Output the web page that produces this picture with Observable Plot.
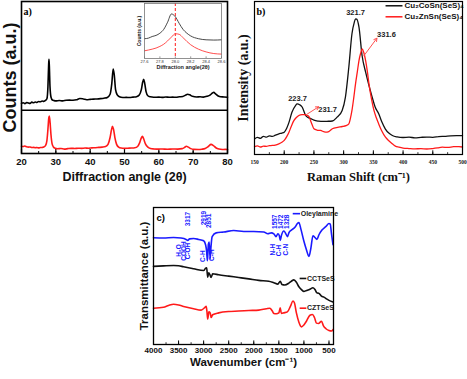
<!DOCTYPE html>
<html><head><meta charset="utf-8">
<script src="https://cdn.jsdelivr.net/npm/d3@7"></script>
<script src="https://cdn.jsdelivr.net/npm/@observablehq/plot@0.6"></script>
<style>
body{margin:0;background:#fff;}
#wrap{position:relative;width:467px;height:379px;overflow:hidden;background:#fff;}
#wrap > div{position:absolute;}
</style></head><body>
<div id="wrap"><div id="pa" style="left:0;top:0"></div><div id="pb" style="left:235px;top:0"></div><div id="pin" style="left:135px;top:0"></div><div id="pc" style="left:120px;top:190px"></div></div>
<script>
// ---------- Panel a: XRD ----------
const xrdTicks = [20,30,40,50,60,70,80];
const xrdCCTSeS = [[20,33.0],[20.5,33.4],[21,32.8],[21.5,33.5],[22,33.2],[22.5,33.0],[23,33.8],[23.5,33.4],[24,33.9],[24.5,33.6],[25,34.2],[25.5,34.0],[26,34.5],[26.5,34.3],[27,34.9],[27.4,36],[27.7,44],[27.9,58],[28.0,62.0],[28.1,58],[28.3,44],[28.6,37],[29,35.2],[29.5,34.8],[30,34.6],[31,34.9],[32,34.6],[33,35.0],[34,35.1],[35,35.0],[36,35.3],[37,36.2],[38,35.9],[39,35.4],[40,35.6],[41,35.8],[42,35.9],[43,36.1],[44,36.4],[45,36.9],[45.8,39],[46.3,46],[46.7,55.6],[47.0,52],[47.4,42],[47.9,38.5],[48.5,37.3],[49.5,36.8],[50.5,36.9],[51.5,36.8],[52.5,37.1],[53.5,37.4],[54.3,38.5],[54.9,42],[55.3,47],[55.6,48.8],[55.9,46],[56.3,40.5],[56.8,38],[57.5,37.3],[58.5,37.0],[60,37.1],[61,36.9],[62,37.2],[63,37.0],[64,37.1],[65,37.0],[66,37.3],[67,37.5],[67.8,38.4],[68.4,39.0],[69,38.6],[69.8,37.6],[71,37.2],[72,37.3],[73,37.1],[74,37.6],[75,38.6],[75.6,39.8],[76,40.2],[76.5,39.3],[77.3,37.8],[78,37.3],[79,37.2],[80,37.0]];
const xrdCZTSeS = [[20,4.8],[20.5,4.6],[21,4.9],[21.5,4.4],[22,4.2],[22.5,4.3],[23,3.9],[23.5,4.0],[24,3.8],[24.5,3.9],[25,3.7],[25.5,3.9],[26,4.0],[26.5,4.3],[27,5.2],[27.4,8.5],[27.7,16],[27.95,23.5],[28.1,24.7],[28.3,21],[28.6,12],[28.9,6.5],[29.3,4.3],[29.8,3.4],[30.5,3.1],[31.5,3.3],[32.5,2.9],[33.5,3.2],[34.5,3.4],[35.5,3.3],[36.5,3.5],[37.5,3.4],[38.5,3.6],[39.5,3.5],[40.5,3.7],[41.5,3.8],[42.5,4.0],[43.5,4.2],[44.5,4.6],[45.2,6],[45.8,10.5],[46.2,15.5],[46.5,17.9],[46.8,16],[47.2,10.5],[47.7,6],[48.3,4.2],[49,3.6],[50,3.4],[51,3.5],[52,3.6],[53,3.8],[53.8,4.6],[54.4,7],[54.9,10.3],[55.2,11.3],[55.6,9.5],[56.1,6.3],[56.8,4.2],[57.6,3.3],[58.5,3.0],[59.5,2.9],[61,3.0],[62.5,2.8],[64,3.0],[65.5,2.9],[66.8,3.2],[67.5,4.0],[68,4.8],[68.6,4.2],[69.3,3.2],[70.2,2.7],[71.5,2.6],[72.5,2.8],[73.5,3.3],[74.4,4.6],[75.2,6.0],[75.9,5.2],[76.6,3.8],[77.5,2.9],[78.5,2.6],[79.3,2.7],[80,2.6]];
const xrdDivider = [28.5];

// inset
const insetTicks = [27.6,27.8,28.0,28.2,28.4,28.6];
const insetCCTSeS = [[27.6,36],[27.65,37],[27.7,40],[27.75,42],[27.8,46],[27.85,53],[27.9,66],[27.95,81],[28.0,76],[28.05,64],[28.1,53],[28.15,46],[28.2,41],[28.3,36],[28.4,34],[28.5,33.5],[28.6,34]];
const insetCZTSeS = [[27.6,14],[27.7,17],[27.75,19],[27.8,22],[27.85,26],[27.9,32],[27.95,39],[28.0,45],[28.05,44],[28.1,38],[28.15,31],[28.2,25],[28.3,17],[28.4,12],[28.5,9],[28.6,8]];
const insetMarker = [28.0];

// ---------- Panel b: Raman ----------
const ramanTicks = [150,200,250,300,350,400,450,500];
const ramanCCTSeS = [[150,10.2],[155,11.2],[160,10.6],[165,11.9],[170,11.3],[175,12.2],[180,11.8],[185,12.6],[191,13.5],[196,14.0],[200,14.6],[204,17],[208,21],[213,27.6],[219,32],[221.8,33.1],[226,32.5],[230.4,30.9],[236,25.5],[240,24.2],[244.5,23.5],[250,22.4],[258,21.8],[265,21.6],[272,21.7],[281,21.9],[289,24.4],[297.5,28.8],[303,37.5],[308.7,57],[314,78.9],[318,86.5],[320,88.7],[322,88.5],[325.8,83.2],[331,64.7],[337,53.8],[342,46],[348,37.5],[353,31],[359,26.6],[364,21.5],[370,16.8],[376,14],[382,12.4],[390,11.5],[400,11.1],[410,11.3],[420,10.9],[430,11.2],[440,11.4],[450,11.2],[460,11.7],[470,11.9],[480,12.2],[490,12.3],[500,12.3]];
const ramanCZTSeS = [[150,5.2],[155,5.6],[160,4.9],[165,5.5],[170,5.3],[175,5.8],[180,5.9],[185,6.2],[191,7.0],[196,8.0],[200,9.2],[204,11.5],[208,14.6],[212,18.5],[216,22],[220,24],[224.6,25.5],[230,26.1],[234,26],[238.6,25.5],[242,24.6],[244.5,22],[247,19.5],[250,16.8],[255,16.0],[261,15.7],[269.5,14.6],[275,15],[281,16.8],[290,17.8],[297.6,18.3],[304,18.9],[308.7,20],[311,23],[314,28.8],[317,37],[320,46.2],[323,54],[325.8,61.4],[328.5,66],[331.3,69],[334,66.5],[337,61.4],[340,54],[342.6,46.2],[347,36],[351,28.8],[355,24],[359,20],[364,15.5],[370.4,11.3],[376,9],[382,7],[387,5.5],[393,4.8],[400,4.2],[410,3.9],[420,3.7],[430,3.8],[440,3.6],[450,3.9],[458,4.3],[466,4.8],[475,4.6],[485,5.1],[494,5.2],[500,4.9]];
const ramanPeakLabels = [
  {x:320, y:92.5, text:"321.7"},
  {x:372, y:78.5, text:"331.6"},
  {x:222.5, y:36.8, text:"223.7"},
  {x:273, y:29.6, text:"231.7"}
];
const ramanArrows = [
  {x1:334, y1:64.5, x2:356, y2:76},
  {x1:237.5, y1:26.1, x2:258, y2:31.2}
];
const ramanLegend = [
  {name:"Cu₂CoSn(SeS)₄", color:"#111", y:97.2},
  {name:"Cu₂ZnSn(SeS)₄", color:"#ff1a1a", y:90.0}
];

// ---------- Panel c: FTIR ----------
const ftirTicks = [4000,3500,3000,2500,2000,1500,1000,500];
const ftirOleylamine = [[4000,77.9],[3800,77.7],[3600,78.1],[3450,77.7],[3350,76.7],[3317,76.0],[3280,77.1],[3200,77.4],[3100,76.7],[3000,75.7],[2960,72.6],[2940,67.9],[2925,61.1],[2905,73.3],[2890,74.7],[2870,62.5],[2855,70.6],[2830,78.7],[2750,81.5],[2600,82.1],[2400,83.2],[2200,82.5],[2000,82.5],[1800,82.1],[1720,80.8],[1650,81.5],[1600,80.8],[1557,78.7],[1520,80.8],[1490,79.4],[1472,76.0],[1450,79.4],[1400,82.8],[1360,80.8],[1328,78.7],[1300,81.5],[1250,83.5],[1180,85.5],[1130,88.3],[1100,89.1],[1060,84.2],[1000,75.4],[950,69.2],[900,64.3],[860,70.6],[820,79.4],[780,78.1],[740,76.7],[700,80.1],[640,83.5],[560,86.2],[500,88.3],[475,87.9],[450,80.8],[420,72.8]];
const ftirCCTSeS = [[4000,57.0],[3800,57.4],[3600,57.7],[3500,57.5],[3400,56.7],[3200,55.3],[3000,54.0],[2960,55.7],[2940,56.0],[2919,49.1],[2900,52.3],[2880,51.3],[2851,48.9],[2820,51.6],[2700,50.9],[2500,49.9],[2300,48.9],[2100,47.9],[1900,46.8],[1700,46.2],[1600,45.1],[1520,44.1],[1472,46.2],[1440,43.8],[1380,43.4],[1300,44.8],[1250,46.2],[1200,47.2],[1150,45.5],[1100,42.1],[1050,40.1],[1000,38.7],[950,39.4],[880,40.4],[820,41.4],[780,40.1],[740,37.7],[700,37.3],[650,35.3],[600,34.6],[550,33.3],[500,32.2],[420,31.0]];
const ftirCZTSeS = [[4000,26.5],[3800,27.2],[3700,28.5],[3600,29.4],[3500,28.9],[3400,27.8],[3200,26.1],[3050,25.1],[2970,27.2],[2950,27.8],[2935,24.4],[2919,18.5],[2895,23.8],[2870,23.1],[2851,19.7],[2820,21.7],[2700,23.1],[2500,24.1],[2300,24.4],[2100,24.8],[1900,25.1],[1750,26.1],[1680,26.5],[1630,24.4],[1600,22.6],[1550,22.4],[1500,23.1],[1472,26.8],[1450,22.7],[1400,23.1],[1330,23.8],[1270,27.8],[1220,31.7],[1190,30.5],[1150,23.1],[1100,16.3],[1050,12.9],[1000,14.3],[950,17.0],[880,21.4],[830,21.9],[790,19.7],[750,15.6],[710,15.3],[650,17.0],[610,13.6],[560,11.5],[500,10.2],[450,9.8],[420,10.9]];
const ftirBands = [
  {x:3309, y:91.6, text:"3317"},
  {x:3488, y:68.6, text:"H₂O"},
  {x:3398, y:68.2, text:"COOH"},
  {x:3319, y:68.2, text:"C-OH"},
  {x:2990, y:92.3, text:"2919"},
  {x:2900, y:90.3, text:"2851"},
  {x:3020, y:64.5, text:"C-H"},
  {x:2841, y:65.2, text:"C-H"},
  {x:1576, y:89.6, text:"1557"},
  {x:1456, y:89.6, text:"1472"},
  {x:1337, y:89.6, text:"1328"},
  {x:1616, y:69.2, text:"N-H"},
  {x:1506, y:68.6, text:"C-H"},
  {x:1357, y:69.2, text:"C-N"}
];
const ftirLegend = [
  {name:"Oleylamine", color:"#1a1aff", x1:1223, x2:1078, tx:1064, y:95.5},
  {name:"CCTSeS", color:"#111", x1:1085, x2:952, tx:938, y:48.2},
  {name:"CZTSeS", color:"#ff1a1a", x1:1085, x2:952, tx:938, y:26.5}
];

const pts = a => a.map(([x,y]) => ({x,y}));
const RED = "#ff1a1a", BLUE = "#1a1aff";
const sans = "Liberation Sans, Arial, sans-serif";
const serif = "Liberation Serif, Times New Roman, serif";
const baseStyle = {background:"transparent", overflow:"visible", fontFamily: sans};
const yTitle = (label, dx, size, family) => Plot.text([label], {text:d=>d, frameAnchor:"left", textAnchor:"middle", lineAnchor:"middle", dx, rotate:-90, fontSize:size, fontWeight:"bold", fontFamily:family, fill:"#111"});

// Panel a
document.getElementById("pa").append(Plot.plot({
  width:240, height:190, marginLeft:21, marginRight:13, marginTop:1, marginBottom:37,
  style: baseStyle,
  x:{domain:[20,80]}, y:{domain:[0,100], axis:null},
  marks:[
    Plot.ruleX(d3.range(20,81,5), {x:d=>d, y1:0, y2:1.3, stroke:"#000", strokeWidth:1}),
    Plot.ruleX(xrdTicks, {x:d=>d, y1:0, y2:2.6, stroke:"#000", strokeWidth:1.2}),
    Plot.ruleY(xrdDivider, {y:d=>d, stroke:"#000", strokeWidth:1.6}),
    Plot.line(pts(xrdCCTSeS), {x:"x", y:"y", stroke:"#000", strokeWidth:1.6, curve:"monotone-x"}),
    Plot.line(pts(xrdCZTSeS), {x:"x", y:"y", stroke:RED, strokeWidth:1.6, curve:"monotone-x"}),
    Plot.frame({stroke:"#000", strokeWidth:1.6}),
    Plot.axisX(xrdTicks, {tickSize:0, tickPadding:5, fontSize:9.5, fontWeight:"bold", label:null, fill:"#111"}),
    Plot.text(["Diffraction angle (2θ)"], {text:d=>d, frameAnchor:"bottom", dy:27, fontSize:12.5, fontWeight:"bold", fill:"#111"}),
    yTitle("Counts (a.u.)", -11, 18, sans),
    Plot.text(["a)"], {text:d=>d, frameAnchor:"top-left", dx:2, dy:6, fontSize:10, fontWeight:"bold", fontFamily:serif, textAnchor:"start"})
  ]
}));

// Inset
document.getElementById("pin").append(Plot.plot({
  width:90, height:75, marginLeft:9, marginRight:4, marginTop:3, marginBottom:17,
  style: baseStyle,
  x:{domain:[27.6,28.6]}, y:{domain:[0,100], axis:null},
  marks:[
    Plot.frame({fill:"#fff", stroke:"none"}),
    Plot.ruleX(insetTicks, {x:d=>d, y1:0, y2:3, stroke:"#555", strokeWidth:0.6}),
    Plot.ruleX(insetMarker, {x:d=>d, stroke:RED, strokeWidth:1, strokeDasharray:"3,2"}),
    Plot.line(pts(insetCCTSeS), {x:"x", y:"y", stroke:"#333", strokeWidth:0.9, curve:"monotone-x"}),
    Plot.line(pts(insetCZTSeS), {x:"x", y:"y", stroke:"#ff3a3a", strokeWidth:0.9, curve:"monotone-x"}),
    Plot.frame({stroke:"#777", strokeWidth:0.8}),
    Plot.axisX(insetTicks, {tickSize:0, tickPadding:2, fontSize:4, label:null, tickFormat:d3.format(".1f"), fill:"#333"}),
    Plot.text(["Diffraction angle(2θ)"], {text:d=>d, frameAnchor:"bottom", dy:10, fontSize:5.5, fontWeight:"bold", fill:"#222"}),
    yTitle("Counts (a.u.)", -5, 5, sans)
  ]
}));

// Panel b
document.getElementById("pb").append(Plot.plot({
  width:232, height:190, marginLeft:19, marginRight:5, marginTop:1, marginBottom:36,
  style: baseStyle,
  x:{domain:[150,500]}, y:{domain:[0,100], axis:null},
  marks:[
    Plot.ruleX(d3.range(150,501,25), {x:d=>d, y1:0, y2:1.2, stroke:"#000", strokeWidth:0.8}),
    Plot.ruleX(ramanTicks, {x:d=>d, y1:0, y2:2.4, stroke:"#000", strokeWidth:1}),
    Plot.line(pts(ramanCCTSeS), {x:"x", y:"y", stroke:"#111", strokeWidth:1.3, curve:"monotone-x"}),
    Plot.line(pts(ramanCZTSeS), {x:"x", y:"y", stroke:RED, strokeWidth:1.3, curve:"monotone-x"}),
    Plot.arrow(ramanArrows, {x1:"x1", y1:"y1", x2:"x2", y2:"y2", stroke:"#ff5050", strokeWidth:1, headLength:5}),
    Plot.text(ramanPeakLabels, {x:"x", y:"y", text:"text", fontSize:7.5, fontWeight:"bold", fill:"#222"}),
    Plot.link(ramanLegend, {x1:370.5, x2:399, y1:"y", y2:"y", stroke:"color", strokeWidth:1.5}),
    Plot.text(ramanLegend, {x:402.5, y:"y", text:"name", textAnchor:"start", fontSize:8, fontWeight:"bold", fill:"#111"}),
    Plot.frame({stroke:"#000", strokeWidth:1.2}),
    Plot.axisX(ramanTicks, {tickSize:0, tickPadding:6, fontSize:5.5, fontWeight:"bold", fontFamily:serif, label:null, fill:"#222"}),
    Plot.text(["Raman Shift (cm⁻¹)"], {text:d=>d, frameAnchor:"bottom", dy:26, fontSize:12.5, fontWeight:"bold", fontFamily:serif, fill:"#111"}),
    yTitle("Intensity (a.u.)", -11, 14, serif),
    Plot.text(["b)"], {text:d=>d, frameAnchor:"top-left", dx:2, dy:6, fontSize:10, fontWeight:"bold", fontFamily:serif, textAnchor:"start"})
  ]
}));

// Panel c
document.getElementById("pc").append(Plot.plot({
  width:230, height:189, marginLeft:33, marginRight:17, marginTop:17, marginBottom:35,
  style: baseStyle,
  x:{domain:[4000,410]}, y:{domain:[0,100], axis:null},
  marks:[
    Plot.ruleX(d3.range(4000,409,-250), {x:d=>d, y1:0, y2:1.3, stroke:"#000", strokeWidth:0.8}),
    Plot.ruleX(ftirTicks, {x:d=>d, y1:0, y2:2.6, stroke:"#000", strokeWidth:1}),
    Plot.line(pts(ftirOleylamine), {x:"x", y:"y", stroke:BLUE, strokeWidth:1.6, curve:"monotone-x"}),
    Plot.line(pts(ftirCCTSeS), {x:"x", y:"y", stroke:"#111", strokeWidth:1.6, curve:"monotone-x"}),
    Plot.line(pts(ftirCZTSeS), {x:"x", y:"y", stroke:RED, strokeWidth:1.6, curve:"monotone-x"}),
    Plot.text(ftirBands, {x:"x", y:"y", text:"text", rotate:-90, fontSize:6.5, fontWeight:"bold", fill:BLUE}),
    Plot.link(ftirLegend, {x1:"x1", x2:"x2", y1:"y", y2:"y", stroke:"color", strokeWidth:1.6}),
    Plot.text(ftirLegend, {x:"tx", y:"y", text:"name", textAnchor:"start", fontSize:7, fontWeight:"bold", fill:"#222"}),
    Plot.frame({stroke:"#000", strokeWidth:1.3}),
    Plot.axisX(ftirTicks, {tickSize:0, tickPadding:3, fontSize:8, fontWeight:"bold", label:null, fill:"#111", tickFormat:d=>String(d)}),
    Plot.text(["Wavenumber (cm⁻¹)"], {text:d=>d, frameAnchor:"bottom", dy:21, fontSize:11.5, fontWeight:"bold", fill:"#111"}),
    yTitle("Transmittance (a.u.)", -9, 11.5, sans),
    Plot.text(["c)"], {text:d=>d, frameAnchor:"top-left", dx:3, dy:7, fontSize:9.5, fontWeight:"bold", textAnchor:"start"})
  ]
}));
</script></body></html>
